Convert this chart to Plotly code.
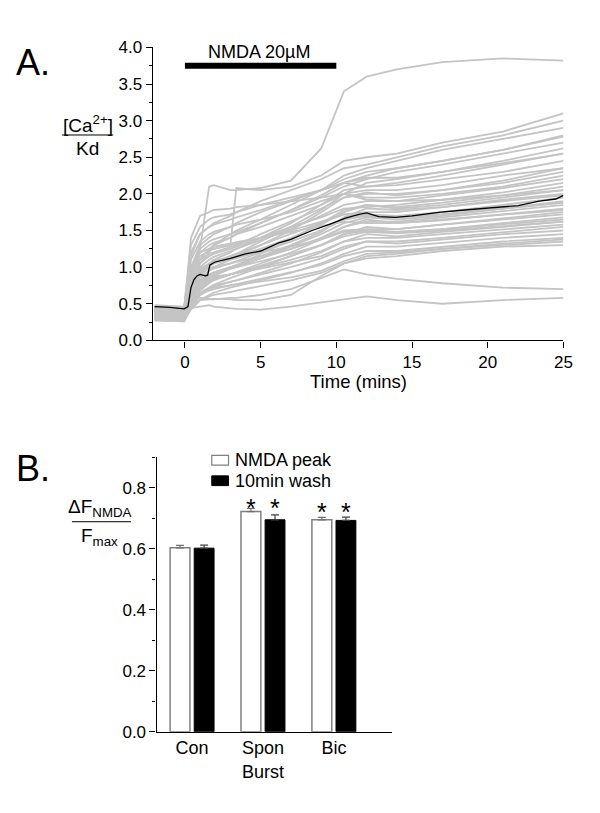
import plotly.graph_objects as go

# ---------------- Panel A data ----------------
T = [-2, -0.05, 0.4, 1, 1.6, 1.9, 3, 3.4, 5, 7, 9, 10.5, 12, 14, 17, 21, 25]
traces = [
    [0.42,0.40,0.90,1.25,2.10,2.12,2.05,2.05,2.08,2.18,2.62,3.40,3.60,3.70,3.80,3.85,3.82],
    [0.35,0.33,0.90,1.15,1.22,1.25,1.30,2.08,2.05,2.10,2.25,2.45,2.50,2.55,2.70,2.85,3.10],
    [0.45,0.42,1.20,1.45,1.55,1.60,1.70,1.75,1.90,2.05,2.20,2.35,2.40,2.50,2.65,2.80,3.00],
    [0.30,0.28,0.70,1.05,1.20,1.30,1.45,1.50,1.65,1.85,2.05,2.25,2.35,2.45,2.60,2.75,2.90],
    [0.38,0.36,1.00,1.30,1.40,1.45,1.55,1.60,1.75,1.90,2.05,2.15,2.25,2.35,2.45,2.60,2.80],
    [0.42,0.40,0.80,1.10,1.25,1.30,1.40,1.45,1.60,1.78,1.95,2.10,2.20,2.30,2.40,2.55,2.70],
    [0.33,0.31,0.60,0.90,1.05,1.10,1.20,1.25,1.40,1.60,1.85,2.05,2.10,2.15,2.25,2.40,2.55],
    [0.47,0.45,1.30,1.55,1.65,1.68,1.72,1.75,1.85,1.95,2.05,2.15,2.10,2.12,2.20,2.30,2.45],
    [0.36,0.34,0.90,1.20,1.30,1.33,1.40,1.45,1.55,1.70,1.85,2.00,2.05,2.05,2.12,2.25,2.35],
    [0.29,0.27,0.50,0.80,0.95,1.00,1.10,1.15,1.30,1.50,1.75,1.95,2.00,2.00,2.05,2.15,2.30],
    [0.44,0.42,1.10,1.35,1.45,1.48,1.55,1.58,1.65,1.75,1.90,2.00,1.95,1.95,2.00,2.10,2.25],
    [0.31,0.29,0.70,1.00,1.10,1.14,1.22,1.25,1.38,1.52,1.70,1.85,1.90,1.90,1.98,2.08,2.20],
    [0.40,0.38,0.80,1.05,1.15,1.18,1.25,1.28,1.40,1.55,1.68,1.80,1.82,1.85,1.92,2.02,2.15],
    [0.27,0.26,0.45,0.70,0.82,0.88,0.98,1.02,1.18,1.38,1.60,1.78,1.85,1.82,1.88,1.98,2.10],
    [0.46,0.44,1.40,1.70,1.75,1.78,1.80,1.82,1.85,1.90,1.95,2.00,1.92,1.90,1.92,1.98,2.05],
    [0.34,0.32,0.75,0.95,1.05,1.08,1.15,1.18,1.30,1.45,1.60,1.72,1.75,1.75,1.82,1.92,2.00],
    [0.39,0.37,0.65,0.85,0.95,0.98,1.05,1.08,1.20,1.35,1.50,1.65,1.72,1.70,1.75,1.85,1.95],
    [0.30,0.28,0.55,0.75,0.85,0.90,0.98,1.00,1.12,1.28,1.45,1.60,1.68,1.65,1.70,1.80,1.90],
    [0.43,0.41,0.90,1.15,1.22,1.25,1.30,1.32,1.40,1.50,1.62,1.72,1.70,1.68,1.72,1.80,1.88],
    [0.37,0.35,0.60,0.80,0.90,0.93,1.00,1.02,1.12,1.25,1.40,1.55,1.62,1.62,1.68,1.76,1.85],
    [0.32,0.30,0.50,0.68,0.78,0.82,0.90,0.93,1.05,1.20,1.38,1.55,1.65,1.60,1.64,1.72,1.80],
    [0.45,0.43,1.00,1.20,1.25,1.28,1.32,1.34,1.40,1.48,1.55,1.62,1.60,1.60,1.65,1.72,1.78],
    [0.28,0.26,0.45,0.62,0.72,0.76,0.85,0.88,1.00,1.15,1.30,1.45,1.55,1.52,1.58,1.66,1.75],
    [0.41,0.39,0.70,0.90,0.98,1.00,1.05,1.07,1.15,1.25,1.38,1.50,1.52,1.52,1.58,1.65,1.72],
    [0.35,0.33,0.55,0.72,0.80,0.83,0.90,0.92,1.02,1.15,1.30,1.45,1.50,1.48,1.52,1.60,1.68],
    [0.48,0.46,0.80,0.98,1.05,1.07,1.12,1.14,1.20,1.28,1.38,1.48,1.50,1.48,1.52,1.58,1.65],
    [0.30,0.28,0.48,0.62,0.70,0.73,0.80,0.82,0.92,1.05,1.20,1.35,1.45,1.42,1.48,1.55,1.62],
    [0.38,0.36,0.60,0.75,0.82,0.85,0.90,0.92,1.00,1.10,1.22,1.35,1.40,1.40,1.45,1.52,1.58],
    [0.33,0.31,0.50,0.65,0.72,0.75,0.80,0.82,0.90,1.00,1.12,1.25,1.35,1.35,1.40,1.48,1.55],
    [0.42,0.40,0.65,0.80,0.85,0.87,0.90,0.92,0.98,1.06,1.15,1.28,1.35,1.32,1.38,1.45,1.50],
    [0.29,0.27,0.42,0.55,0.62,0.65,0.72,0.74,0.82,0.92,1.05,1.18,1.28,1.28,1.33,1.40,1.45],
    [0.36,0.34,0.50,0.62,0.68,0.70,0.75,0.77,0.84,0.93,1.03,1.15,1.22,1.22,1.28,1.35,1.40],
    [0.40,0.38,0.55,0.65,0.70,0.72,0.75,0.76,0.80,0.86,0.95,1.08,1.18,1.20,1.25,1.30,1.35],
    [0.31,0.29,0.45,0.55,0.60,0.62,0.66,0.68,0.74,0.82,0.92,1.05,1.12,1.15,1.22,1.28,1.30],
    [0.44,0.42,0.55,0.58,0.57,0.57,0.56,0.55,0.55,0.62,0.88,1.05,1.15,1.18,1.25,1.32,1.38],
    [0.38,0.36,0.50,0.55,0.56,0.56,0.58,0.58,0.62,0.70,0.85,0.97,0.90,0.84,0.78,0.72,0.70],
    [0.40,0.38,0.44,0.46,0.48,0.46,0.44,0.43,0.42,0.46,0.52,0.56,0.60,0.55,0.50,0.55,0.58],
    [0.34,0.32,0.85,1.10,1.18,1.20,1.28,1.30,1.45,1.62,1.80,1.95,2.02,1.98,2.05,2.18,2.35],
    [0.45,0.43,0.95,1.25,1.35,1.38,1.45,1.48,1.60,1.78,1.98,2.15,2.22,2.22,2.30,2.42,2.55],
    [0.28,0.27,0.60,0.88,1.00,1.05,1.15,1.18,1.35,1.55,1.78,2.00,2.15,2.20,2.30,2.45,2.62],
    [0.39,0.37,0.70,0.92,1.02,1.06,1.12,1.15,1.25,1.40,1.58,1.75,1.85,1.80,1.85,1.95,2.05],
    [0.32,0.30,0.55,0.78,0.88,0.92,1.00,1.03,1.15,1.30,1.48,1.68,1.80,1.78,1.82,1.90,1.98],
    [0.47,0.45,1.15,1.45,1.55,1.58,1.65,1.68,1.78,1.92,2.05,2.20,2.30,2.35,2.45,2.60,2.78],
    [0.36,0.34,0.62,0.82,0.90,0.92,0.98,1.00,1.08,1.18,1.30,1.42,1.48,1.46,1.50,1.56,1.62],
    [0.43,0.41,0.75,0.95,1.02,1.05,1.10,1.12,1.22,1.35,1.50,1.65,1.70,1.68,1.72,1.80,1.88],
]

mean_t = [-2, -1, -0.05, 0.2, 0.4, 0.6, 0.8, 1.0, 1.35, 1.5, 1.65, 2.0, 3, 4, 5, 6.2, 7, 8.4,
          9.5, 10.6, 11.5, 12, 12.8, 13.9, 15, 16.9, 18.5, 20.2, 22, 23.4, 24.5, 25]
mean_v = [0.46, 0.45, 0.43, 0.46, 0.72, 0.83, 0.88, 0.90, 0.88, 0.89, 1.03, 1.07, 1.12, 1.18,
          1.22, 1.33, 1.38, 1.50, 1.58, 1.67, 1.72, 1.74, 1.69, 1.68, 1.70, 1.75, 1.78, 1.81,
          1.84, 1.90, 1.93, 1.98]

nmda_start, nmda_end, nmda_level = 0, 10, 3.75

# ---------------- Panel B data ----------------
groups = [0, 1, 2]
group_labels = ["Con", "Spon<br>Burst", "Bic"]
peak_vals = [0.603, 0.722, 0.695]
peak_err = [0.008, 0.010, 0.008]
wash_vals = [0.602, 0.695, 0.693]
wash_err = [0.010, 0.016, 0.011]
star_level = [None, 0.752, 0.739]   # height of the significance asterisks

W, H = 600, 813
def px(x):
    return x / W
def py(y):
    return 1 - y / H

FONT = "Arial, Liberation Sans, sans-serif"
fig = go.Figure()

for tr in traces:
    fig.add_trace(go.Scatter(x=T, y=tr, mode="lines", line=dict(color="#c4c4c4", width=1.8),
                             showlegend=False, hoverinfo="skip", xaxis="x", yaxis="y"))
fig.add_trace(go.Scatter(x=mean_t, y=mean_v, mode="lines", line=dict(color="black", width=1.3),
                         showlegend=False, xaxis="x", yaxis="y"))
fig.add_trace(go.Scatter(x=[nmda_start, nmda_end], y=[nmda_level, nmda_level], mode="lines",
                         line=dict(color="black", width=6), showlegend=False, xaxis="x", yaxis="y"))

bw = 0.28
off_peak, off_wash = -0.31, 0.03
fig.add_trace(go.Bar(x=groups, y=peak_vals, width=bw, offset=off_peak,
                     marker=dict(color="white", line=dict(color="#808080", width=1.5)),
                     error_y=dict(type="data", array=peak_err, arrayminus=[0]*3, symmetric=False,
                                  color="#707070", thickness=1.2, width=4),
                     showlegend=False, xaxis="x2", yaxis="y2"))
fig.add_trace(go.Bar(x=groups, y=wash_vals, width=bw, offset=off_wash,
                     marker=dict(color="black", line=dict(color="black", width=1)),
                     error_y=dict(type="data", array=wash_err, arrayminus=[0]*3, symmetric=False,
                                  color="#404040", thickness=1.2, width=4),
                     showlegend=False, xaxis="x2", yaxis="y2"))

ann = []
for g, s in zip(groups, star_level):
    if s is None:
        continue
    for off in (off_peak, off_wash):
        ann.append(dict(x=g + off + bw / 2, y=s, xref="x2", yref="y2", text="*",
                        showarrow=False, font=dict(size=25, family=FONT, color="black"),
                        yanchor="middle", yshift=-6))

def txt(x, y, s, size, xanchor="center"):
    return dict(x=px(x), y=py(y), xref="paper", yref="paper", text=s, showarrow=False,
                xanchor=xanchor, yanchor="middle", font=dict(size=size, family=FONT, color="black"))

ann += [
    txt(34, 55, "A.", 36),
    txt(34, 471, "B.", 36),
    txt(263, 44, "NMDA 20µM", 18),
    txt(364, 381, "Time (mins)", 18.5),
    txt(89, 118, "[Ca<sup>2+</sup>]", 19),
    txt(89, 143, "Kd", 19),
    txt(102, 511, "ΔF<sub>NMDA</sub>", 19),
    txt(101, 541, "F<sub>max</sub>", 19),
    txt(237, 462, "NMDA peak", 18, "left"),
    txt(237, 483, "10min wash", 18, "left"),
]

shapes = [
    dict(type="line", xref="paper", yref="paper", x0=px(63), x1=px(115), y0=py(129), y1=py(129),
         line=dict(color="black", width=1)),
    dict(type="line", xref="paper", yref="paper", x0=px(73), x1=px(133), y0=py(525), y1=py(525),
         line=dict(color="black", width=1)),
    dict(type="rect", xref="paper", yref="paper", x0=px(215), x1=px(232), y0=py(467), y1=py(457),
         line=dict(color="#808080", width=1.2), fillcolor="white"),
    dict(type="rect", xref="paper", yref="paper", x0=px(215), x1=px(232), y0=py(488), y1=py(478),
         line=dict(color="black", width=1), fillcolor="black"),
]

axis_common = dict(showline=True, linecolor="black", linewidth=1.3, ticks="outside",
                   ticklen=6, tickwidth=1.2, tickcolor="black", showgrid=False, zeroline=False,
                   tickfont=dict(size=17, family=FONT, color="black"))

fig.update_layout(
    autosize=True, margin=dict(l=0, r=0, t=0, b=0, pad=0),
    paper_bgcolor="white", plot_bgcolor="white", barmode="overlay",
    xaxis=dict(domain=[px(155), px(572)], range=[-2.13, 25], tickvals=[0, 5, 10, 15, 20, 25],
               anchor="y", **axis_common),
    yaxis=dict(domain=[py(339.3), py(39.3)], range=[0, 4], tickvals=[0, 0.5, 1, 1.5, 2, 2.5, 3, 3.5, 4],
               tickformat=".1f", anchor="x",
               minor=dict(dtick=0.25, ticks="outside", ticklen=3, tickcolor="black", showgrid=False),
               **axis_common),
    xaxis2=dict(domain=[px(159), px(398)], range=[-0.5, 2.82], tickvals=groups, ticktext=group_labels,
                anchor="y2", showline=True, linecolor="black", linewidth=1.3, ticks="",
                showgrid=False, zeroline=False, tickfont=dict(size=18, family=FONT, color="black")),
    yaxis2=dict(domain=[py(740), py(459)], range=[0, 0.9], tickvals=[0, 0.2, 0.4, 0.6, 0.8],
                tickformat=".1f", anchor="x2",
                minor=dict(dtick=0.1, ticks="outside", ticklen=3, tickcolor="black", showgrid=False),
                **axis_common),
    annotations=ann, shapes=shapes,
)

post = ("document.documentElement.style.margin='0';document.body.style.margin='0';"
        "document.documentElement.style.overflow='hidden';document.body.style.overflow='hidden';"
        "var d=document.getElementById('{plot_id}');"
        "d.style.position='fixed';d.style.left='0px';d.style.top='0px';"
        "d.style.width='100vw';d.style.height='100vh';"
        "Plotly.Plots.resize(d);")
fig.write_html("out.html", config={"displayModeBar": False, "responsive": True},
               default_width="100vw", default_height="100vh", post_script=post)
